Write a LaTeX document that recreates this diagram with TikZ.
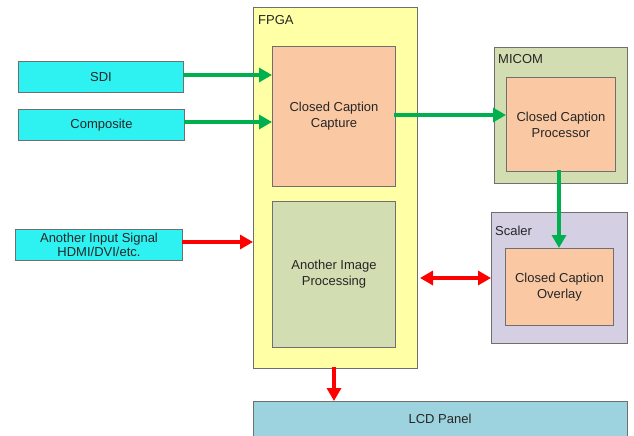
\documentclass[tikz,border=0pt]{standalone}
\usepackage{fontspec}
\setmainfont{Liberation Sans}
\usetikzlibrary{arrows.meta}
\definecolor{cyanbox}{HTML}{2EF2F2}
\definecolor{fpga}{HTML}{FFFFA6}
\definecolor{peach}{HTML}{FAC9A3}
\definecolor{olive}{HTML}{D2DDB2}
\definecolor{lav}{HTML}{D5CFE3}
\definecolor{lcd}{HTML}{9DD3DF}
\definecolor{gline}{HTML}{6F6F6F}
\definecolor{garrow}{HTML}{00B04F}
\definecolor{rarrow}{HTML}{FF0000}
\tikzset{
  box/.style={draw=gline, line width=1pt, inner sep=0pt, anchor=north west, align=center,
    font=\fontsize{13}{16}\selectfont, text=black!85},
  tip/.tip={Triangle[length=13pt,width=14pt]},
  garr/.style={draw=garrow, line width=3.6pt, -tip},
  rarr/.style={draw=rarrow, line width=3.6pt, -tip},
  rarr2/.style={draw=rarrow, line width=3.6pt, tip-tip},
  lbl/.style={anchor=west, inner sep=0pt, font=\fontsize{13}{16}\selectfont, text=black!85}
}
\begin{document}
\begin{tikzpicture}[x=1pt,y=-1pt]
\useasboundingbox (0,0) rectangle (634,436);
\begin{scope}
\clip (0,0) rectangle (634,436);
% containers
\node[box, fill=fpga, minimum width=164pt, minimum height=361pt] (fpga) at (253,7) {};
\node[lbl] (fpgal) at (258,20) {FPGA};
\node[box, fill=olive, minimum width=133pt, minimum height=136pt] (micom) at (494,47) {};
\node[lbl] (micoml) at (498,59) {MICOM};
\node[box, fill=lav, minimum width=136pt, minimum height=131pt] (scaler) at (491,212) {};
\node[lbl] (scalerl) at (495,231) {Scaler};
\node[box, fill=lcd, minimum width=374pt, minimum height=40pt] (lcd) at (253,401) {};
\node[font=\fontsize{13}{16}\selectfont, text=black!85] (lcdl) at (440,419) {LCD Panel};
% inputs
\node[box, fill=cyanbox, minimum width=165pt, minimum height=31pt] (sdi) at (18,61) {SDI};
\node[box, fill=cyanbox, minimum width=166pt, minimum height=31pt] (comp) at (18,109) {Composite};
\node[box, fill=cyanbox, minimum width=167pt, minimum height=31pt, font=\fontsize{13}{14.5}\selectfont] (ain) at (15,229) {Another Input Signal\\HDMI/DVI/etc.};
% inner boxes
\node[box, fill=peach, minimum width=123pt, minimum height=140pt] (cap) at (272,46) {Closed Caption\\Capture};
\node[box, fill=olive, minimum width=123pt, minimum height=146pt] (aip) at (272,201) {Another Image\\Processing};
\node[box, fill=peach, minimum width=109pt, minimum height=94pt] (proc) at (506,77) {Closed Caption\\Processor};
\node[box, fill=peach, minimum width=108pt, minimum height=77pt] (ovl) at (505,248) {Closed Caption\\Overlay};
% arrows
\coordinate (a1) at (183,75);
\coordinate (a1e) at (272,75);
\draw[garr] (a1) -- (a1e);
\coordinate (a2) at (184,122);
\coordinate (a2e) at (272,122);
\draw[garr] (a2) -- (a2e);
\coordinate (a3) at (182,242);
\coordinate (a3e) at (253,242);
\draw[rarr] (a3) -- (a3e);
\coordinate (a4) at (394,115);
\coordinate (a4e) at (506,115);
\draw[garr] (a4) -- (a4e);
\coordinate (a5) at (559,170);
\coordinate (a5e) at (559,248);
\draw[garr] (a5) -- (a5e);
\coordinate (a6) at (420,278);
\coordinate (a6e) at (491,278);
\draw[rarr2] (a6) -- (a6e);
\coordinate (a7) at (334,367);
\coordinate (a7e) at (334,401);
\draw[rarr] (a7) -- (a7e);
\end{scope}
\end{tikzpicture}
\end{document}
